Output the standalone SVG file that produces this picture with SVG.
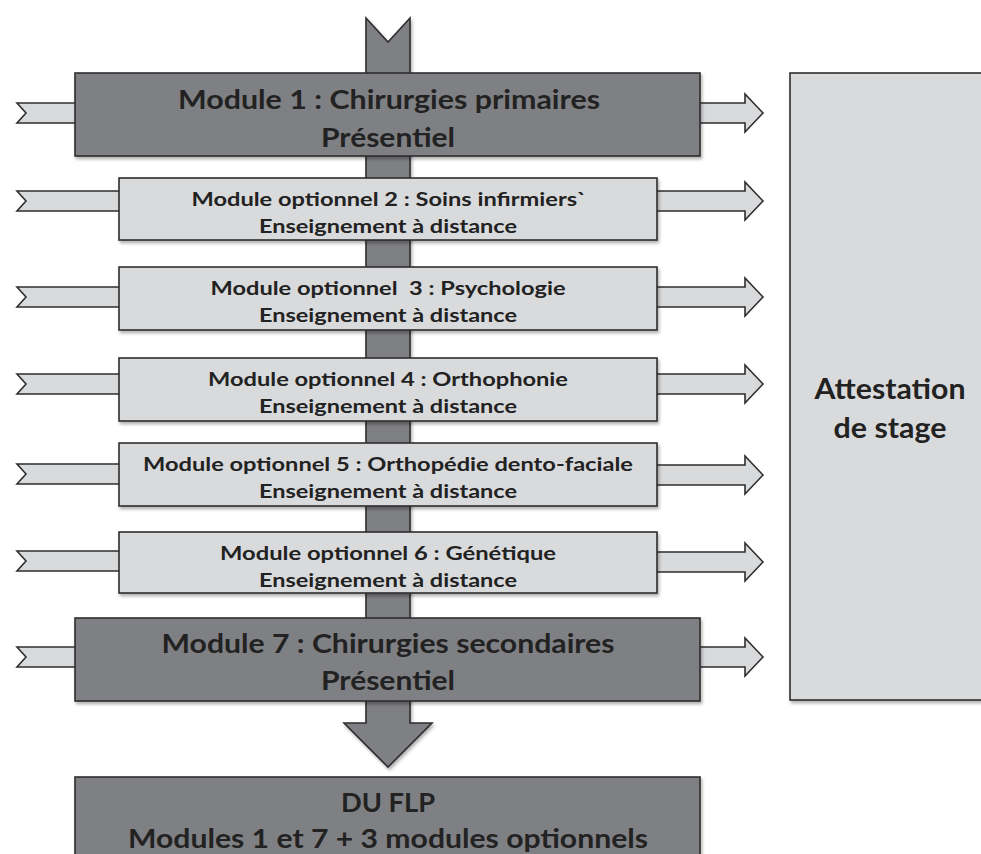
<svg xmlns="http://www.w3.org/2000/svg" width="981" height="854" viewBox="0 0 981 854">
<defs>
<filter id="sh" x="-5%" y="-10%" width="115%" height="130%">
<feDropShadow dx="1.5" dy="2.5" stdDeviation="1.8" flood-color="#000" flood-opacity="0.3"/>
</filter>
<style>
.dark{fill:#7f8083;stroke:#2e2e2e;stroke-width:1.6}
.light{fill:#d9dadc;stroke:#2e2e2e;stroke-width:1.6}
.arr{fill:#d9dadc;stroke:#2e2e2e;stroke-width:1.6;stroke-linejoin:miter}
.trunk{fill:#7f8083;stroke:#2e2e2e;stroke-width:1.6}
text{font-family:Lato,"Open Sans","Liberation Sans",sans-serif;font-weight:bold;fill:#222222;text-anchor:middle}
.big{font-size:26px}
.sm{font-size:19px}
.att{font-size:28px}
</style>
</defs>
<rect width="981" height="854" fill="#ffffff"/>
<g id="connectors">
<polygon id="trunk" class="trunk" filter="url(#sh)" points="366,18 388,42 410,18 410,723 432,723 388,767 344,723 366,723"/>
<polygon class="arr" points="17,103 80,103 80,123 17,123 26,113"/>
<polygon class="arr" points="17,191 124,191 124,211 17,211 26,201"/>
<polygon class="arr" points="17,287 124,287 124,307 17,307 26,297"/>
<polygon class="arr" points="17,374 124,374 124,394 17,394 26,384"/>
<polygon class="arr" points="17,464 124,464 124,484 17,484 26,474"/>
<polygon class="arr" points="17,551 124,551 124,571 17,571 26,561"/>
<polygon class="arr" points="17,647 80,647 80,667 17,667 26,657"/>
<polygon class="arr" points="695,103 745,103 745,94 763,113 745,132 745,123 695,123"/>
<polygon class="arr" points="652,191 745,191 745,182 763,201 745,220 745,211 652,211"/>
<polygon class="arr" points="652,287 745,287 745,278 763,297 745,316 745,307 652,307"/>
<polygon class="arr" points="652,374 745,374 745,365 763,384 745,403 745,394 652,394"/>
<polygon class="arr" points="652,465 745,465 745,456 763,475 745,494 745,485 652,485"/>
<polygon class="arr" points="652,552 745,552 745,543 763,562 745,581 745,572 652,572"/>
<polygon class="arr" points="695,647 745,647 745,638 763,657 745,676 745,667 695,667"/>
</g>
<g id="m1">
<rect class="dark" filter="url(#sh)" x="75" y="73" width="625" height="83"/>
<text class="big" x="389" y="109" textLength="422" lengthAdjust="spacingAndGlyphs">Module 1 : Chirurgies primaires</text>
<text class="big" x="388" y="147" textLength="134" lengthAdjust="spacingAndGlyphs">Présentiel</text>
</g>
<g id="m2">
<rect class="light" filter="url(#sh)" x="119" y="178" width="538" height="62"/>
<text class="sm" x="389" y="206" textLength="395" lengthAdjust="spacingAndGlyphs">Module optionnel 2 : Soins infirmiers`</text>
<text class="sm" x="388" y="233" textLength="258" lengthAdjust="spacingAndGlyphs">Enseignement à distance</text>
</g>
<g id="m3">
<rect class="light" filter="url(#sh)" x="119" y="267" width="538" height="63"/>
<text class="sm" x="388" y="295" textLength="355" lengthAdjust="spacingAndGlyphs" xml:space="preserve">Module optionnel  3 : Psychologie</text>
<text class="sm" x="388" y="322" textLength="258" lengthAdjust="spacingAndGlyphs">Enseignement à distance</text>
</g>
<g id="m4">
<rect class="light" filter="url(#sh)" x="119" y="358" width="538" height="63"/>
<text class="sm" x="388" y="386" textLength="360" lengthAdjust="spacingAndGlyphs">Module optionnel 4 : Orthophonie</text>
<text class="sm" x="388" y="413" textLength="258" lengthAdjust="spacingAndGlyphs">Enseignement à distance</text>
</g>
<g id="m5">
<rect class="light" filter="url(#sh)" x="119" y="443" width="538" height="63"/>
<text class="sm" x="388" y="471" textLength="490" lengthAdjust="spacingAndGlyphs">Module optionnel 5 : Orthopédie dento-faciale</text>
<text class="sm" x="388" y="498" textLength="258" lengthAdjust="spacingAndGlyphs">Enseignement à distance</text>
</g>
<g id="m6">
<rect class="light" filter="url(#sh)" x="119" y="532" width="538" height="61"/>
<text class="sm" x="388" y="560" textLength="336" lengthAdjust="spacingAndGlyphs">Module optionnel 6 : Génétique</text>
<text class="sm" x="388" y="587" textLength="258" lengthAdjust="spacingAndGlyphs">Enseignement à distance</text>
</g>
<g id="m7">
<rect class="dark" filter="url(#sh)" x="75" y="618" width="625" height="83"/>
<text class="big" x="388" y="653" textLength="453" lengthAdjust="spacingAndGlyphs">Module 7 : Chirurgies secondaires</text>
<text class="big" x="388" y="690" textLength="134" lengthAdjust="spacingAndGlyphs">Présentiel</text>
</g>
<g id="attestation">
<rect class="light" filter="url(#sh)" x="790" y="73" width="200" height="627"/>
<text class="att" x="890" y="399" textLength="151" lengthAdjust="spacingAndGlyphs">Attestation</text>
<text class="att" x="890" y="438" textLength="113" lengthAdjust="spacingAndGlyphs">de stage</text>
</g>
<g id="duflp">
<rect class="dark" filter="url(#sh)" x="75" y="777" width="625" height="100"/>
<text class="big" x="388" y="812" textLength="94" lengthAdjust="spacingAndGlyphs">DU FLP</text>
<text class="big" x="388" y="848" textLength="520" lengthAdjust="spacingAndGlyphs">Modules 1 et 7 + 3 modules optionnels</text>
</g>
</svg>
